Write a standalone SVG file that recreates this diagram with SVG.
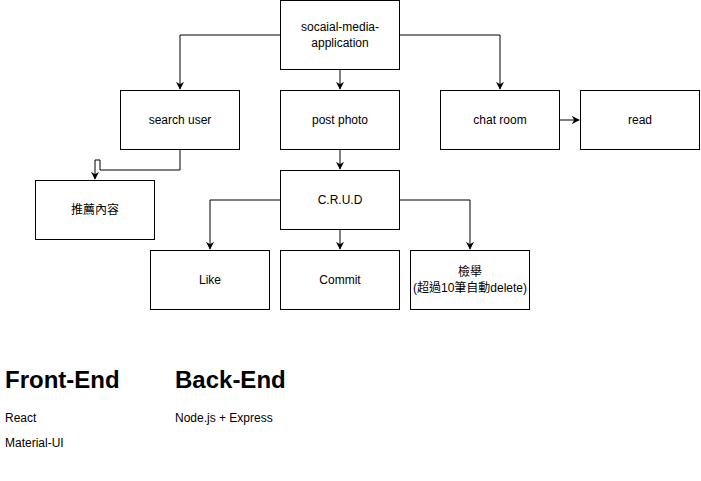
<svg xmlns="http://www.w3.org/2000/svg" width="701" height="481" viewBox="0 0 701 481">
<defs>
<marker id="arr" viewBox="0 0 10 10" refX="9" refY="5" markerWidth="8" markerHeight="8" markerUnits="userSpaceOnUse" orient="auto">
<path d="M0,0 L10,5 L0,10 L3,5 Z" fill="#000"/>
</marker>
<style>
.n rect{fill:#fff;stroke:#000;stroke-width:1}
.n text{font-family:"Liberation Sans","Noto Sans CJK TC",Arial,sans-serif;font-size:12px;fill:#000;text-anchor:middle}
.c path{fill:none;stroke:#000;stroke-width:1;marker-end:url(#arr)}
.h{font-family:"Liberation Sans",Arial,sans-serif;font-size:24px;font-weight:bold;fill:#000}
.t{font-family:"Liberation Sans",Arial,sans-serif;font-size:12px;fill:#000}
</style>
</defs>
<rect width="701" height="481" fill="#fff"/>
<g class="c" id="connectors">
<path d="M280,35 H180 V89"/>
<path d="M340,70 V89"/>
<path d="M400,35 H500 V89"/>
<path d="M560,120 H579"/>
<path d="M340,150 V169"/>
<path d="M180,150 V170 H100 V160 H95 V179"/>
<path d="M280,200 H210 V249"/>
<path d="M340,230 V249"/>
<path d="M400,200 H470 V249"/>
</g>
<g class="n" id="app"><rect x="280.5" y="0.5" width="119" height="69"/><text x="340" y="31">socaial-media-</text><text x="340" y="47">application</text></g>
<g class="n" id="search"><rect x="120.5" y="90.5" width="119" height="59"/><text x="180" y="124">search user</text></g>
<g class="n" id="post"><rect x="280.5" y="90.5" width="119" height="59"/><text x="340" y="124">post photo</text></g>
<g class="n" id="chat"><rect x="440.5" y="90.5" width="119" height="59"/><text x="500" y="124">chat room</text></g>
<g class="n" id="read"><rect x="580.5" y="90.5" width="119" height="59"/><text x="640" y="124">read</text></g>
<g class="n" id="recommend"><rect x="35.5" y="180.5" width="119" height="59"/><text x="95" y="214">推薦內容</text></g>
<g class="n" id="crud"><rect x="280.5" y="170.5" width="119" height="59"/><text x="340" y="204">C.R.U.D</text></g>
<g class="n" id="like"><rect x="150.5" y="250.5" width="119" height="59"/><text x="210" y="284">Like</text></g>
<g class="n" id="commit"><rect x="280.5" y="250.5" width="119" height="59"/><text x="340" y="284">Commit</text></g>
<g class="n" id="report"><rect x="410.5" y="250.5" width="119" height="59"/><text x="470" y="276">檢舉</text><text x="470" y="292">(超過10筆自動delete)</text></g>
<text class="h" x="5" y="388">Front-End</text>
<text class="h" x="175" y="388">Back-End</text>
<text class="t" x="5" y="422">React</text>
<text class="t" x="5" y="447">Material-UI</text>
<text class="t" x="175" y="422">Node.js + Express</text>
</svg>
